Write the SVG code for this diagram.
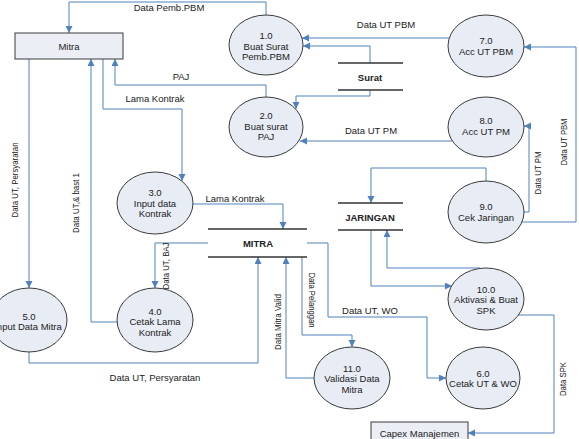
<svg xmlns="http://www.w3.org/2000/svg" width="579" height="439" viewBox="0 0 579 439">
<style>
text{font-family:"Liberation Sans",Arial,sans-serif;font-size:9.5px;fill:#222;text-anchor:middle}
.b{font-weight:bold}
.node ellipse{fill:#e8ecf5;stroke:#3a3a3a;stroke-width:1}
.ext rect{fill:#eceef6;stroke:#3a3a3a;stroke-width:1}
.store line{stroke:#333;stroke-width:1.3}
.conn path{fill:none;stroke:#4f81bd;stroke-width:1;marker-end:url(#ah)}
</style>
<defs>
<marker id="ah" markerUnits="userSpaceOnUse" markerWidth="8" markerHeight="8" refX="7" refY="3.5" orient="auto">
<path d="M0,0 L7,3.5 L0,7 z" fill="#4f81bd"/>
</marker>
</defs>
<rect width="579" height="439" fill="#fff"/>

<g id="connectors" class="conn">
<path d="M266,15 V2 H69 V33"/>
<path d="M266,98 V85 H115 V59"/>
<path d="M103,59 V109 H182 V181"/>
<path d="M29,59 V288"/>
<path d="M117,322 H91 V59"/>
<path d="M193,204 H283 V229"/>
<path d="M208,243 H155 V288"/>
<path d="M29,352 V363 H258 V257"/>
<path d="M314,378 H286 V257"/>
<path d="M302,257 V335 H352 V347"/>
<path d="M307,243 H328 V317 H427 V378 H446"/>
<path d="M449,38 H302"/>
<path d="M370,63 V46 H303"/>
<path d="M370,90 V96 H296 V109"/>
<path d="M452,141 H300"/>
<path d="M523,212 H529 V126 H524"/>
<path d="M521,222 H576 V47 H524"/>
<path d="M486,181 V168 H371 V203"/>
<path d="M480,268 H387 V230"/>
<path d="M371,230 V286 H452"/>
<path d="M518,315 H554 V433 H468"/>
</g>

<g id="labels">
<text x="169" y="10.5">Data Pemb.PBM</text>
<text x="181" y="79.5">PAJ</text>
<text x="155" y="101.5">Lama Kontrak</text>
<text x="386" y="27.5">Data UT PBM</text>
<text x="371" y="133.5">Data UT PM</text>
<text x="235" y="202">Lama Kontrak</text>
<text x="370" y="313.5">Data UT, WO</text>
<text x="155" y="380.5">Data UT, Persyaratan</text>
<text transform="translate(15,180) rotate(-90)" y="3.4" textLength="75" lengthAdjust="spacingAndGlyphs">Data UT, Persyaratan</text>
<text transform="translate(76,203) rotate(-90)" y="3.4" textLength="60" lengthAdjust="spacingAndGlyphs">Data UT,&amp; bast 1</text>
<text transform="translate(166,266) rotate(-90)" y="3.4" textLength="47" lengthAdjust="spacingAndGlyphs">Data UT, BAJ</text>
<text transform="translate(278,322) rotate(-90)" y="3.4" textLength="56" lengthAdjust="spacingAndGlyphs">Data Mitra Valid</text>
<text transform="translate(312,300) rotate(90)" y="3.4" textLength="55" lengthAdjust="spacingAndGlyphs">Data Pelanggan</text>
<text transform="translate(538,173) rotate(-90)" y="3.4" textLength="43" lengthAdjust="spacingAndGlyphs">Data UT PM</text>
<text transform="translate(564,142) rotate(-90)" y="3.4" textLength="47" lengthAdjust="spacingAndGlyphs">Data UT PBM</text>
<text transform="translate(563,379) rotate(-90)" y="3.4" textLength="34" lengthAdjust="spacingAndGlyphs">Data SPK</text>
</g>

<g id="mitra" class="ext"><rect x="15" y="33" width="108" height="26"/><text x="69" y="49.5">Mitra</text></g>
<g id="capex" class="ext"><rect x="371" y="422" width="97" height="24"/><text x="419.5" y="436.5">Capex Manajemen</text></g>

<g id="store-surat" class="store"><line x1="338" y1="63" x2="403" y2="63"/><line x1="338" y1="90" x2="403" y2="90"/><text class="b" x="370" y="80.5">Surat</text></g>
<g id="store-jaringan" class="store"><line x1="338" y1="203" x2="403" y2="203"/><line x1="338" y1="230" x2="403" y2="230"/><text class="b" x="370" y="220.5">JARINGAN</text></g>
<g id="store-mitra" class="store"><line x1="208" y1="229" x2="307" y2="229"/><line x1="208" y1="257" x2="307" y2="257"/><text class="b" x="258" y="246.5">MITRA</text></g>

<g id="p1" class="node"><ellipse cx="266" cy="45" rx="37" ry="30"/><text x="266" y="39">1.0</text><text x="266" y="49.5">Buat Surat</text><text x="266" y="60">Pemb.PBM</text></g>
<g id="p2" class="node"><ellipse cx="266" cy="127" rx="37" ry="30"/><text x="266" y="119">2.0</text><text x="266" y="129.5">Buat surat</text><text x="266" y="140">PAJ</text></g>
<g id="p3" class="node"><ellipse cx="155" cy="203" rx="38" ry="31"/><text x="155" y="196">3.0</text><text x="155" y="206.5">Input data</text><text x="155" y="217">Kontrak</text></g>
<g id="p4" class="node"><ellipse cx="155" cy="320" rx="38" ry="32"/><text x="155" y="314.5">4.0</text><text x="155" y="325">Cetak Lama</text><text x="155" y="335.5">Kontrak</text></g>
<g id="p5" class="node"><ellipse cx="29" cy="320" rx="38" ry="32"/><text x="29" y="319.5">5.0</text><text x="28" y="330">Input Data Mitra</text></g>
<g id="p6" class="node"><ellipse cx="483" cy="378" rx="37" ry="31"/><text x="483" y="376.5">6.0</text><text x="483" y="387">Cetak UT &amp; WO</text></g>
<g id="p7" class="node"><ellipse cx="486" cy="46" rx="38" ry="31"/><text x="486" y="44">7.0</text><text x="486" y="54.5">Acc UT PBM</text></g>
<g id="p8" class="node"><ellipse cx="486" cy="127" rx="38" ry="30"/><text x="486" y="124">8.0</text><text x="486" y="134.5">Acc UT PM</text></g>
<g id="p9" class="node"><ellipse cx="486" cy="212" rx="38" ry="31"/><text x="486" y="210">9.0</text><text x="486" y="220.5">Cek Jaringan</text></g>
<g id="p10" class="node"><ellipse cx="486" cy="299" rx="38" ry="31"/><text x="486" y="292.5">10.0</text><text x="486" y="303">Aktivasi &amp; Buat</text><text x="486" y="313.5">SPK</text></g>
<g id="p11" class="node"><ellipse cx="352" cy="378" rx="38" ry="31"/><text x="352" y="371.5">11.0</text><text x="352" y="382">Validasi Data</text><text x="352" y="392.5">Mitra</text></g>
</svg>
